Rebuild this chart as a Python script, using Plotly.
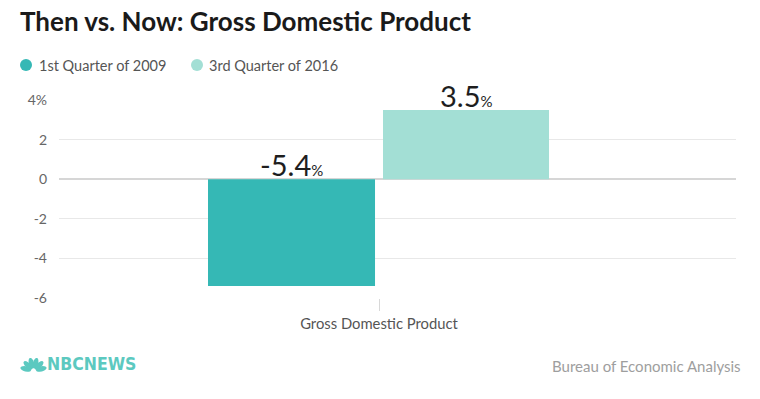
import plotly.graph_objects as go
import math

categories = ["Gross Domestic Product"]
series_names = ["1st Quarter of 2009", "3rd Quarter of 2016"]
series_values = [[-5.4], [3.5]]
series_colors = ["#35b8b5", "#a3dfd5"]
y_tickvals = [-6, -4, -2, 0, 2, 4]
y_ticktext = ["-6", "-4", "-2", "0", "2", "4%"]

W, H = 760, 399
L, R, T, B = 59, 24, 100, 101
PW, PH = W - L - R, H - T - B

def xp(px):
    return (px - L) / PW

def yp(py):
    return (H - B - py) / PH

FONT = "Lato, 'Open Sans', sans-serif"

# bar geometry (category units, axis width = 1 unit)
offsets = [-0.2526, 0.0059]
widths = [0.2467, 0.2452]

fig = go.Figure()
for name, vals, col, off, wd in zip(series_names, series_values, series_colors, offsets, widths):
    fig.add_trace(go.Bar(
        x=categories, y=vals, name=name, marker=dict(color=col, line=dict(width=0)),
        offset=off, width=wd, showlegend=False, hoverinfo="skip",
    ))

annotations = []
shapes = []
# data labels
for vals, off, wd in zip(series_values, offsets, widths):
    for c, v in zip(categories, vals):
        annotations.append(dict(
            x=c, y=max(v, 0), xref="x", yref="y", xanchor="center", yanchor="bottom",
            xshift=(off + wd / 2) * PW, yshift=-5, showarrow=False,
            text=f"{v}<span style='font-size:15px'>%</span>",
            font=dict(family=FONT, size=29, color="#1e1e1e"),
        ))

# legend
leg_circle_x = [26, 197]
leg_text_x = [37, 207]
for name, col, cx, tx in zip(series_names, series_colors, leg_circle_x, leg_text_x):
    shapes.append(dict(type="circle", xref="paper", yref="paper",
                       xsizemode="pixel", ysizemode="pixel",
                       xanchor=xp(cx), yanchor=yp(65), x0=-6, x1=6, y0=-6, y1=6,
                       fillcolor=col, line=dict(width=0)))
    annotations.append(dict(x=xp(tx), y=yp(65), xref="paper", yref="paper",
                            xanchor="left", yanchor="middle", showarrow=False,
                            text=name, font=dict(family=FONT, size=14.5, color="#555555")))

# source
annotations.append(dict(x=xp(743), y=yp(366), xref="paper", yref="paper",
                        xanchor="right", yanchor="middle", showarrow=False,
                        text="Bureau of Economic Analysis",
                        font=dict(family=FONT, size=15, color="#9e9e9e")))

# NBC News logo (text + simple peacock fan)
logo_col = "#5cc9c0"
annotations.append(dict(x=xp(45), y=yp(364), xref="paper", yref="paper",
                        xanchor="left", yanchor="middle", showarrow=False,
                        text="<b>NBCNEWS</b>",
                        font=dict(family="'DejaVu Sans Condensed', 'Liberation Sans Narrow', sans-serif",
                                  size=17.5, color=logo_col)))
for k in range(6):
    ang = math.radians(165 - k * 30)
    ca, sa = math.cos(ang), math.sin(ang)
    pts = []
    for j in range(17):
        t = 2 * math.pi * j / 16
        r = 8 + 5.5 * math.cos(t)
        w = 2.6 * math.sin(t)
        pts.append((r * ca - w * sa, r * sa + w * ca))
    path = "M " + " L ".join(f"{px:.2f},{py:.2f}" for px, py in pts) + " Z"
    shapes.append(dict(type="path", xref="paper", yref="paper",
                       xsizemode="pixel", ysizemode="pixel",
                       xanchor=xp(33.5), yanchor=yp(371), path=path,
                       fillcolor=logo_col, line=dict(width=0)))

fig.update_layout(
    width=W, height=H,
    margin=dict(l=L, r=R, t=T, b=B, autoexpand=False),
    paper_bgcolor="white", plot_bgcolor="white",
    barmode="overlay",
    showlegend=False,
    title=dict(text="Then vs. Now: Gross Domestic Product", x=20 / W, xanchor="left",
               y=1 - 13 / H, yanchor="top",
               font=dict(family=FONT, size=26, color="#1a1a1a", weight="bold")),
    xaxis=dict(type="category", range=[-0.4727, 0.5273], showgrid=False, zeroline=False,
               showline=False, ticks="outside", ticklen=12, tickcolor="#d8d8d8", tickwidth=1,
               tickfont=dict(family=FONT, size=14.8, color="#555555"), fixedrange=True),
    yaxis=dict(range=[-6, 4], tickvals=y_tickvals, ticktext=y_ticktext,
               showgrid=True, gridcolor="#e8e8e8", gridwidth=1,
               zeroline=True, zerolinecolor="#d6d6d6", zerolinewidth=1.5,
               showline=False, ticks="", ticklabelstandoff=11,
               tickfont=dict(family=FONT, size=14, color="#666666"), fixedrange=True),
    annotations=annotations,
    shapes=shapes,
)

fig.write_html("out.html", config={"displayModeBar": False},
               post_script="document.body.style.margin='0';document.body.style.overflow='hidden';")
